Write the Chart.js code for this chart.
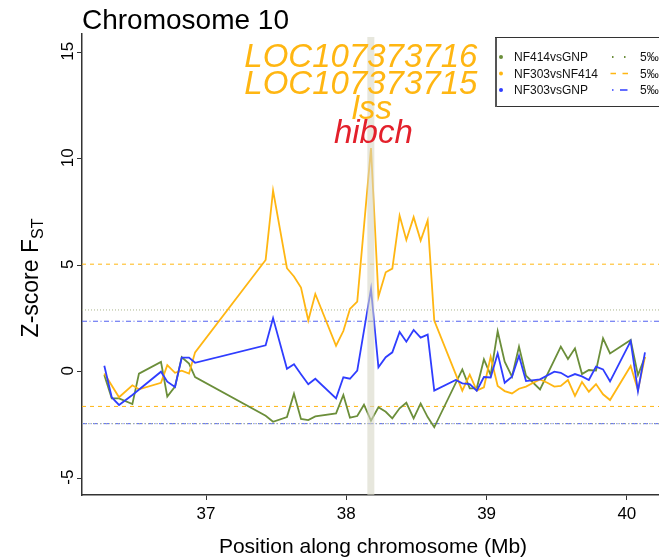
<!DOCTYPE html>
<html>
<head>
<meta charset="utf-8">
<script src="https://cdn.jsdelivr.net/npm/chart.js@4.4.1/dist/chart.umd.min.js"></script>
<style>
  html, body { margin: 0; padding: 0; background: #fff; }
</style>
</head>
<body>
<canvas id="fst" width="659" height="560"></canvas>
<script>
// posiciones de las ventanas (Mb)
const posiciones = [36.275, 36.328, 36.380, 36.475, 36.522, 36.679, 36.724, 36.779, 36.827, 36.879, 36.922,
  37.425, 37.478, 37.577, 37.627, 37.677, 37.729, 37.779, 37.927, 37.979, 38.026, 38.078, 38.126, 38.176,
  38.229, 38.281, 38.328, 38.380, 38.428, 38.480, 38.530, 38.580, 38.627, 38.780, 38.827, 38.880, 38.930,
  38.981, 39.029, 39.079, 39.129, 39.181, 39.231, 39.281, 39.333, 39.381, 39.433, 39.483, 39.529, 39.580,
  39.630, 39.680, 39.729, 39.780, 39.830, 39.880, 40.027, 40.079, 40.129];

const nf414vsGNP = [-0.15, -1.25, -1.25, -1.52, -0.09, 0.46, -1.17, -0.70, 0.68, 0.38, -0.25,
  -2.07, -2.35, -2.13, -1.03, -2.22, -2.27, -2.10, -1.96, -1.09, -2.16, -2.08, -1.55, -2.30,
  -1.67, -1.88, -2.19, -1.72, -1.46, -2.19, -1.49, -2.13, -2.61, null, 0.11, -0.78, -0.78,
  0.58, -0.16, 1.90, 0.47, -0.23, 1.18, -0.19, null, -0.83, null, null, 1.18, 0.60,
  1.10, -0.11, 0.08, 0.05, 1.57, 0.86, 1.49, -0.16, 0.70];

const nf303vsNF414 = [-0.08, null, -1.20, -0.64, -0.83, -0.52, 0.31, -0.05, 0.05, -0.09, 0.91,
  5.25, 8.51, 4.86, 4.47, 3.95, 2.41, 3.65, 1.22, 1.91, 2.95, 3.29, null, 10.50,
  3.52, 4.67, 4.84, 7.33, 6.19, 7.26, 6.16, 7.10, 2.40, null, -0.89, -0.14, -0.89,
  -0.73, 0.70, -0.67, -0.91, -1.02, -0.80, -0.70, -0.52, -0.36, -0.52, -0.70, -0.67, -0.39,
  -1.14, -0.48, -0.94, -0.58, -1.06, -1.33, 0.27, -0.86, 0.70];

const nf303vsGNP = [0.28, -1.20, -1.56, -1.09, null, 0.00, -0.47, -0.72, 0.66, 0.66, 0.42,
  1.24, 2.52, 0.14, 0.35, -0.12, -0.59, -0.33, -1.25, -0.26, -0.33, 0.05, null, 3.89,
  0.21, 0.68, 0.91, 1.87, 1.41, 1.96, 1.60, 1.74, -0.89, -0.39, -0.55, -0.58, -0.89,
  -0.25, -0.27, 0.86, -0.52, -0.23, 0.75, -0.44, null, -0.36, null, 0.00, -0.05, -0.25,
  -0.11, -0.22, -0.39, 0.24, 0.11, -0.45, 1.44, -0.91, 0.91];

const nombres = ['NF414vsGNP', 'NF303vsNF414', 'NF303vsGNP'];
const colores = ['#6b8e3a', '#ffb612', '#2f3dff'];

// umbrales 5‰ (superior e inferior) de cada comparación
const umbralSup = [2.90, 5.05, 2.37];
const umbralInf = [-2.44, -1.63, -2.44];

const marcasX = [37, 38, 39, 40];
const marcasY = [-5, 0, 5, 10, 15];
const region = [38.15, 38.20];
const genesNaranja = ['LOC107373716', 'LOC107373715', 'lss'];
const genRojo = 'hibch';

const X_MIN = 36.116, X_MAX = 40.229;
const Y_MIN = -5.79, Y_MAX = 15.86;
const FUENTE = '"Liberation Sans", Arial, sans-serif';

const estilosUmbral = [
  { color: '#a9b58c', dash: [1, 2] },
  { color: '#ffb612', dash: [4, 4] },
  { color: '#5060f0', dash: [5, 2.5, 1, 2.5] }
];

const series = [nf414vsGNP, nf303vsNF414, nf303vsGNP];
const ordenes = [2, 1, 0];

const datasets = series.map((serie, i) => ({
  label: nombres[i],
  data: posiciones.map((p, j) => ({ x: p, y: serie[j] })),
  borderColor: colores[i],
  borderWidth: 1.8,
  pointRadius: 0,
  tension: 0,
  spanGaps: true,
  order: ordenes[i]
}));

[umbralSup, umbralInf].forEach(lista => {
  lista.forEach((v, i) => {
    datasets.push({
      label: nombres[i] + ' 5‰',
      data: [{ x: X_MIN, y: v }, { x: X_MAX, y: v }],
      borderColor: estilosUmbral[i].color,
      borderDash: estilosUmbral[i].dash,
      borderWidth: 1,
      pointRadius: 0,
      order: 5
    });
  });
});

const fondo = {
  id: 'fondo',
  beforeDraw(chart) {
    const ctx = chart.ctx;
    ctx.save();
    ctx.fillStyle = '#fff';
    ctx.fillRect(0, 0, chart.width, chart.height);
    ctx.restore();
  }
};

const extras = {
  id: 'extras',
  afterDatasetsDraw(chart) {
    const { ctx, chartArea: a, scales: { x, y } } = chart;
    ctx.save();

    // franja de la región candidata
    const x0 = x.getPixelForValue(region[0]);
    const x1 = x.getPixelForValue(region[1]);
    ctx.fillStyle = 'rgba(214,214,196,0.58)';
    ctx.fillRect(x0, a.top + 3, x1 - x0, a.bottom - a.top - 3);

    // genes
    const cx = (x0 + x1) / 2;
    ctx.font = 'italic 33px ' + FUENTE;
    ctx.textAlign = 'center';
    ctx.textBaseline = 'alphabetic';
    ctx.fillStyle = '#ffb612';
    ctx.fillText(genesNaranja[0], cx - 10, a.top + 32.7);
    ctx.fillText(genesNaranja[1], cx - 10, a.top + 60.3);
    ctx.fillText(genesNaranja[2], cx + 1, a.top + 85.3);
    ctx.fillStyle = '#e3202b';
    ctx.fillText(genRojo, cx + 2.5, a.top + 109.3);

    // título
    ctx.fillStyle = '#000';
    ctx.textAlign = 'left';
    ctx.font = '28px ' + FUENTE;
    ctx.fillText('Chromosome 10', a.left, 29);

    // etiquetas del eje Y (verticales)
    ctx.font = '17px ' + FUENTE;
    ctx.textAlign = 'center';
    ctx.textBaseline = 'middle';
    y.ticks.forEach(t => {
      const py = y.getPixelForValue(t.value);
      ctx.save();
      ctx.translate(68, py - 1);
      ctx.rotate(-Math.PI / 2);
      ctx.fillText(String(t.value), 0, 0);
      ctx.restore();
    });

    // título eje Y con subíndice
    ctx.save();
    ctx.translate(30, 278);
    ctx.rotate(-Math.PI / 2);
    ctx.textAlign = 'left';
    ctx.textBaseline = 'alphabetic';
    ctx.font = '23px ' + FUENTE;
    const base = 'Z-score F';
    const wBase = ctx.measureText(base).width;
    ctx.font = '16px ' + FUENTE;
    const wSub = ctx.measureText('ST').width;
    const inicio = -(wBase + wSub) / 2;
    ctx.font = '23px ' + FUENTE;
    ctx.fillText(base, inicio, 8);
    ctx.font = '16px ' + FUENTE;
    ctx.fillText('ST', inicio + wBase, 13);
    ctx.restore();

    // título eje X
    ctx.font = '21px ' + FUENTE;
    ctx.textAlign = 'center';
    ctx.textBaseline = 'alphabetic';
    ctx.fillText('Position along chromosome (Mb)', 373, 553);

    // leyenda
    ctx.fillStyle = '#fff';
    ctx.fillRect(495, 37, 170, 70);
    ctx.strokeStyle = '#333';
    ctx.lineWidth = 1;
    ctx.strokeRect(495.5, 37.5, 180, 69);
    ctx.fillStyle = '#555';
    ctx.fillRect(495, 38, 2, 69);
    const filas = [57, 73.5, 90];
    ctx.font = '12px ' + FUENTE;
    ctx.textAlign = 'left';
    ctx.textBaseline = 'middle';
    filas.forEach((fy, i) => {
      ctx.fillStyle = colores[i];
      ctx.beginPath();
      ctx.arc(501, fy, 2, 0, Math.PI * 2);
      ctx.fill();
      ctx.fillStyle = '#111';
      ctx.fillText(nombres[i], 514, fy + 1);
      ctx.fillText('5‰', 640, fy + 1);
    });
    const muestras = [
      { dash: [1.5, 10.5], ini: 612 },
      { dash: [5.5, 6.5], ini: 610.5 },
      { dash: [1.5, 6.5, 7.5, 10], ini: 612 }
    ];
    muestras.forEach((m, i) => {
      ctx.strokeStyle = colores[i];
      ctx.lineWidth = i === 0 ? 2 : 1.6;
      ctx.setLineDash(m.dash);
      ctx.beginPath();
      ctx.moveTo(m.ini, filas[i]);
      ctx.lineTo(629, filas[i]);
      ctx.stroke();
    });
    ctx.setLineDash([]);

    ctx.restore();
  }
};

const ejeComun = {
  grid: { drawOnChartArea: false, drawTicks: true, tickLength: 5, color: '#333', tickWidth: 1 },
  border: { display: true, color: '#333', width: 1.5 }
};

new Chart(document.getElementById('fst'), {
  type: 'line',
  data: { datasets },
  options: {
    responsive: false,
    animation: false,
    devicePixelRatio: 1,
    layout: { padding: { top: 34, left: 0, right: 0, bottom: 0 } },
    plugins: {
      legend: { display: false },
      tooltip: { enabled: false },
      title: { display: false }
    },
    scales: {
      x: {
        type: 'linear',
        min: X_MIN,
        max: X_MAX,
        afterBuildTicks: s => { s.ticks = marcasX.map(v => ({ value: v })); },
        afterFit: s => { s.height = 65; },
        ticks: {
          font: { family: FUENTE, size: 17 },
          color: '#000',
          padding: 4,
          maxRotation: 0,
          callback: v => String(v)
        },
        ...ejeComun
      },
      y: {
        type: 'linear',
        min: Y_MIN,
        max: Y_MAX,
        afterBuildTicks: s => { s.ticks = marcasY.map(v => ({ value: v })); },
        afterFit: s => { s.width = 82; },
        ticks: { display: false },
        ...ejeComun
      }
    }
  },
  plugins: [fondo, extras]
});
</script>
</body>
</html>
